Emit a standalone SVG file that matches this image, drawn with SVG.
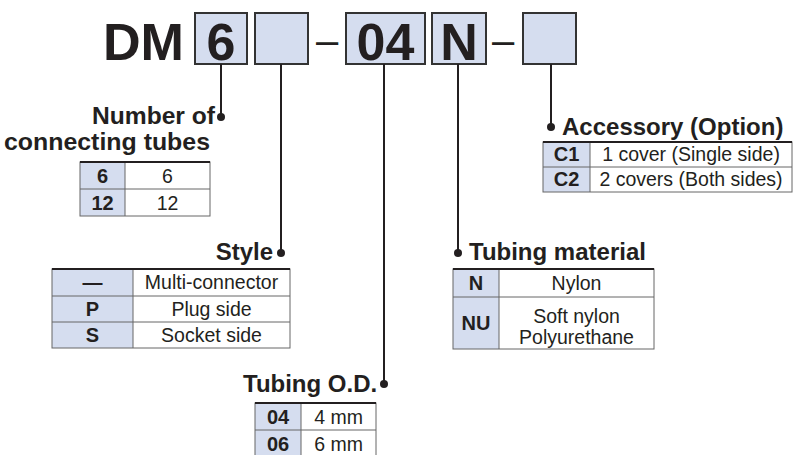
<svg xmlns="http://www.w3.org/2000/svg" width="805" height="455" viewBox="0 0 805 455">
<style>
.big{font-family:"Liberation Sans",Arial,sans-serif;font-weight:bold;font-size:52px;fill:#231f20}
.dash{font-family:"Liberation Sans",Arial,sans-serif;font-size:40px;fill:#231f20}
.box{fill:#d5ddef;stroke:#333;stroke-width:2}
.lbl{font-family:"Liberation Sans",Arial,sans-serif;font-weight:bold;font-size:24px;fill:#231f20}
.tk{font-family:"Liberation Sans",Arial,sans-serif;font-weight:bold;font-size:20px;fill:#231f20;text-anchor:middle}
.tv{font-family:"Liberation Sans",Arial,sans-serif;font-size:19.5px;fill:#231f20;text-anchor:middle}
.kc{fill:#d5ddef}
.cell{fill:none;stroke:#666;stroke-width:1}
.top{stroke:#231f20;stroke-width:2}
.con{stroke:#231f20;stroke-width:2;fill:none}
.dot{fill:#231f20}
</style>

<g id="code">
<text class="big" x="103" y="60" textLength="81" lengthAdjust="spacingAndGlyphs">DM</text>
<rect class="box" x="195" y="13" width="52" height="51"/>
<text class="big" x="221" y="60" text-anchor="middle">6</text>
<rect class="box" x="255" y="13" width="53" height="51"/>
<text class="dash" x="316" y="54">–</text>
<rect class="box" x="346" y="13" width="79" height="51"/>
<text class="big" x="385.5" y="60" text-anchor="middle">04</text>
<rect class="box" x="432" y="13" width="54" height="51"/>
<text class="big" x="459" y="60" text-anchor="middle">N</text>
<text class="dash" x="492" y="54">–</text>
<rect class="box" x="523" y="13" width="53" height="51"/>
</g>

<g id="connectors">
<path class="con" d="M221 64V117M281 64V253M384 64V384M458 64V253M551 64V127"/>
<circle class="dot" cx="221" cy="117" r="4"/>
<circle class="dot" cx="281" cy="253" r="4"/>
<circle class="dot" cx="384" cy="384" r="4"/>
<circle class="dot" cx="458" cy="253" r="4"/>
<circle class="dot" cx="551" cy="127" r="4"/>
</g>

<g id="number-of-tubes">
<text class="lbl" x="215" y="124" text-anchor="end" textLength="123" lengthAdjust="spacingAndGlyphs">Number of</text>
<text class="lbl" x="210" y="150" text-anchor="end" textLength="206" lengthAdjust="spacingAndGlyphs">connecting tubes</text>
<rect class="kc" x="80" y="162" width="45" height="54"/>
<rect class="cell" x="80" y="162" width="130" height="54"/>
<path class="cell" d="M125 162V216M80 189H210"/>
<path class="top" d="M80 162H210"/>
<text class="tk" x="102.5" y="183">6</text>
<text class="tv" x="167.5" y="183">6</text>
<text class="tk" x="102.5" y="210">12</text>
<text class="tv" x="167.5" y="210">12</text>
</g>

<g id="style">
<text class="lbl" x="273" y="260" text-anchor="end">Style</text>
<rect class="kc" x="52" y="269" width="81" height="79"/>
<rect class="cell" x="52" y="269" width="238" height="79"/>
<path class="cell" d="M133 269V348M52 296H290M52 322H290"/>
<path class="top" d="M52 269H290"/>
<text class="tk" x="92.5" y="289">—</text>
<text class="tv" x="211.5" y="289">Multi-connector</text>
<text class="tk" x="92.5" y="316">P</text>
<text class="tv" x="211.5" y="316">Plug side</text>
<text class="tk" x="92.5" y="342">S</text>
<text class="tv" x="211.5" y="342">Socket side</text>
</g>

<g id="tubing-od">
<text class="lbl" x="243" y="392">Tubing O.D.</text>
<rect class="kc" x="255" y="403" width="46" height="54"/>
<rect class="cell" x="255" y="403" width="121" height="54"/>
<path class="cell" d="M301 403V457M255 430H376"/>
<path class="top" d="M255 403H376"/>
<text class="tk" x="278" y="424">04</text>
<text class="tv" x="338.5" y="424">4 mm</text>
<text class="tk" x="278" y="451">06</text>
<text class="tv" x="338.5" y="451">6 mm</text>
</g>

<g id="tubing-material">
<text class="lbl" x="469" y="260">Tubing material</text>
<rect class="kc" x="453" y="269" width="46" height="80"/>
<rect class="cell" x="453" y="269" width="201" height="80"/>
<path class="cell" d="M499 269V349M453 297H654"/>
<path class="top" d="M453 269H654"/>
<text class="tk" x="476" y="290">N</text>
<text class="tv" x="576.5" y="290">Nylon</text>
<text class="tk" x="476" y="330">NU</text>
<text class="tv" x="576.5" y="323">Soft nylon</text>
<text class="tv" x="576.5" y="344">Polyurethane</text>
</g>

<g id="accessory">
<text class="lbl" x="562" y="135">Accessory (Option)</text>
<rect class="kc" x="543" y="142" width="47" height="50"/>
<rect class="cell" x="543" y="142" width="249" height="50"/>
<path class="cell" d="M590 142V192M543 167H792"/>
<path class="top" d="M543 142H792"/>
<text class="tk" x="566.5" y="161">C1</text>
<text class="tv" x="691" y="161">1 cover (Single side)</text>
<text class="tk" x="566.5" y="186">C2</text>
<text class="tv" x="691" y="186">2 covers (Both sides)</text>
</g>
</svg>
